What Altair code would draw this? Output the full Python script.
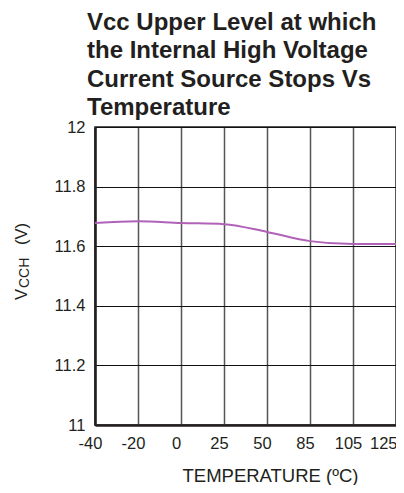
import altair as alt
import pandas as pd

temps = ["-40", "-20", "0", "25", "50", "85", "105", "125"]
vcch = [11.678, 11.684, 11.678, 11.674, 11.648, 11.617, 11.607, 11.607]
y_ticks = [11, 11.2, 11.4, 11.6, 11.8, 12]
title_lines = ["Vcc Upper Level at which", "the Internal High Voltage",
               "Current Source Stops Vs", "Temperature"]

df = pd.DataFrame({"temp": temps, "vcch": vcch})
FONT = "Liberation Sans"
INK = "#231f20"
last = temps[-1]

line = alt.Chart(df).mark_line(color="#b062b8", strokeWidth=2, interpolate="monotone").encode(
    x=alt.X("temp:O", sort=temps,
            scale=alt.Scale(type="point", padding=0),
            axis=alt.Axis(title="TEMPERATURE (ºC)", labelAngle=0, ticks=False, tickSize=0,
                          labelPadding=10,
                          labelAlign={"condition": {"test": f"datum.label == '{last}'", "value": "right"},
                                      "value": "center"},
                          labelOffset={"condition": {"test": f"datum.label == '{last}'", "value": 1},
                                       "value": -5},
                          labelFontSize=16.5, labelFont=FONT, labelColor=INK,
                          grid=True, gridColor="#555555", gridWidth=1.5,
                          domainColor=INK, domainWidth=2.5,
                          titleFont=FONT, titleFontSize=18.5, titleFontWeight="normal",
                          titleColor=INK, titleX=175, titleY=56, titleAlign="center",
                          titleBaseline="alphabetic")),
    y=alt.Y("vcch:Q",
            scale=alt.Scale(domain=[11, 12], nice=False, zero=False),
            axis=alt.Axis(title=None, values=y_ticks, format="~g", ticks=False, tickSize=0,
                          labelPadding=10, labelFontSize=16.5, labelFont=FONT, labelColor=INK,
                          grid=True, gridColor="#111111", gridWidth=1.2,
                          domainColor=INK, domainWidth=2.5)),
)

one = pd.DataFrame({"k": [0]})
t_v = alt.Chart(one).mark_text(text="V", angle=270, align="left", baseline="alphabetic",
                               font=FONT, fontSize=16.5, color=INK).encode(
    x=alt.value(-68), y=alt.value(173))
t_cch = alt.Chart(one).mark_text(text="CCH", angle=270, align="left", baseline="alphabetic",
                                 font=FONT, fontSize=14, color=INK).encode(
    x=alt.value(-66), y=alt.value(161))
t_pv = alt.Chart(one).mark_text(text="(V)", angle=270, align="left", baseline="alphabetic",
                                font=FONT, fontSize=16.5, color=INK).encode(
    x=alt.value(-68), y=alt.value(118))

chart = alt.layer(line, t_v, t_cch, t_pv).properties(
    width=301, height=298,
    autosize=alt.AutoSizeParams(type="none"),
    padding={"left": 87, "top": 119, "right": 0, "bottom": 60},
    title=alt.TitleParams(title_lines, anchor="start", frame="group", dx=-8, dy=2,
                          font=FONT, fontSize=24, fontWeight="bold", color=INK,
                          lineHeight=28.5, offset=1),
).configure_view(stroke=INK, strokeWidth=1.5)

chart.save("out.html", embed_options={"renderer": "svg", "actions": False})
